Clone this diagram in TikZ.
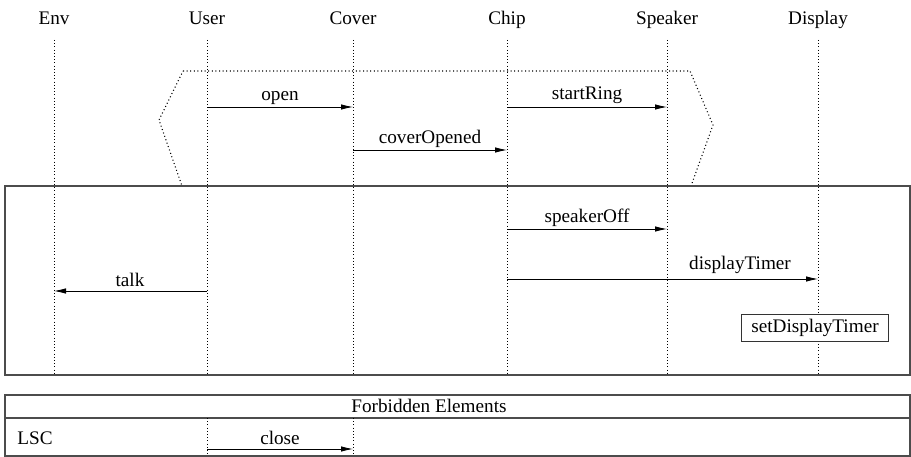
\documentclass[tikz,border=0pt]{standalone}
\usepackage{fontspec}
\setmainfont{Liberation Serif}
\usetikzlibrary{arrows.meta}
\begin{document}
\begin{tikzpicture}[x=1pt,y=-1pt,
  every node/.style={font=\fontsize{19.2}{23}\selectfont, inner sep=0pt},
  life/.style={line width=1pt, dash pattern=on 1pt off 2.2pt},
  cond/.style={line width=1.1pt, dash pattern=on 1pt off 2.6pt},
  frame/.style={draw=black!70, line width=1.2pt},
  msg/.style={line width=0.8pt, -{Latex[length=12pt,width=5.5pt]}},
  lbl/.style={anchor=base}]
\useasboundingbox (0,0) rectangle (911,457);
% lifeline heads
\node[lbl] (env) at (54,25) {Env};
\node[lbl] (user) at (207,25) {User};
\node[lbl] (cover) at (353,25) {Cover};
\node[lbl] (chip) at (507,25) {Chip};
\node[lbl] (speaker) at (667,25) {Speaker};
\node[lbl] (display) at (818,25) {Display};
% lifelines
\foreach \n/\x in {env/54,user/207,cover/353,chip/507,speaker/667,display/818}{
  \coordinate (\n top) at (\x,40);
  \coordinate (\n bot) at (\x,375);
  \draw[life] (\n top) -- (\n bot);
}
% prechart (hexagon)
\draw[cond] (183,71) -- (690,71) -- (713,125) -- (691,186) -- (182,186) -- (159,120) -- cycle;
% main chart frame
\draw[frame] (5,186) rectangle (910,375);
% messages
\coordinate (o1) at (207,107); \coordinate (o2) at (353,107);
\draw[msg] (o1) -- node[above=2.5pt] {open} (o2);
\coordinate (s1) at (507,107); \coordinate (s2) at (667,107);
\draw[msg] (s1) -- node[above=2.5pt] {startRing} (s2);
\coordinate (c1) at (353,150); \coordinate (c2) at (507,150);
\draw[msg] (c1) -- node[above=2.5pt] {coverOpened} (c2);
\coordinate (k1) at (507,229); \coordinate (k2) at (667,229);
\draw[msg] (k1) -- node[above=2.5pt] {speakerOff} (k2);
\coordinate (d1) at (507,279); \coordinate (d2) at (818,279);
\draw[msg] (d1) -- (d2);
\node[anchor=south] (dtl) at (740,274) {displayTimer};
\coordinate (t1) at (207,291); \coordinate (t2) at (54,291);
\draw[msg] (t1) -- (t2);
\node[anchor=south] (tkl) at (130,287) {talk};
\node[draw=black!80, line width=0.9pt, fill=white, inner xsep=9.5pt, inner ysep=4.5pt] (sdt) at (815,328) {setDisplayTimer};
% forbidden elements
\draw[frame] (5,395) rectangle (910,456);
\draw[frame] (5,418) -- (910,418);
\node (fe) at (429,406) {Forbidden Elements};
\node (lsc) at (35,438) {LSC};
\coordinate (fu1) at (207,418); \coordinate (fu2) at (207,456);
\coordinate (fc1) at (353,418); \coordinate (fc2) at (353,456);
\draw[life] (fu1) -- (fu2);
\draw[life] (fc1) -- (fc2);
\coordinate (cl1) at (207,449); \coordinate (cl2) at (353,449);
\draw[msg] (cl1) -- node[above=4pt] {close} (cl2);
\end{tikzpicture}
\end{document}
